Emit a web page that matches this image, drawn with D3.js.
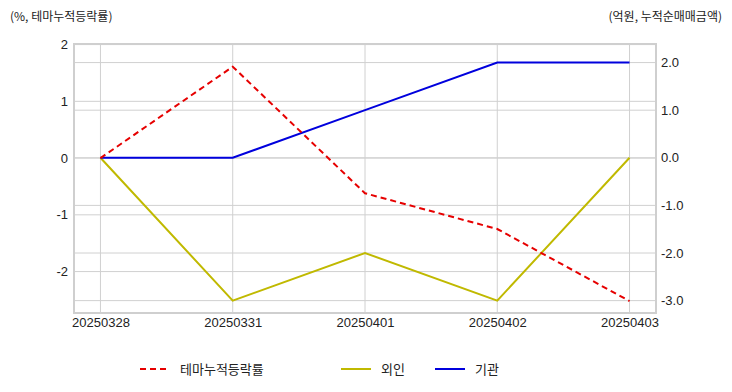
<!DOCTYPE html>
<html>
<head>
<meta charset="utf-8">
<script src="https://cdn.jsdelivr.net/npm/d3@7"></script>
<style>
  body { margin: 0; background: #fff; }
  text { font-family: "Liberation Sans", Arial, sans-serif; fill: #222; }
  .kr { font-family: "Noto Sans CJK KR", sans-serif; }
</style>
</head>
<body>
<div id="chart"></div>
<script>
// data
const dates = ["20250328", "20250331", "20250401", "20250402", "20250403"]
const themeReturn = [0, 1.61, -0.62, -1.25, -2.52]   // left axis, %
const foreign = [0, -3.0, -2.0, -3.0, 0.0]           // right axis, 억원
const institution = [0, 0, 1.0, 2.0, 2.0]            // right axis
const leftTicks = [2, 1, 0, -1, -2]
const rightTicks = [2, 1, 0, -1, -2, -3]

const width = 732
const height = 392
const plot = {left: 74, right: 656, top: 44, bottom: 313}

const svg = d3.select('#chart').append('svg').attr('width', width).attr('height', height)

const x = d3.scalePoint().domain(dates).range([plot.left, plot.right]).padding(0.2)
const yL = d3.scaleLinear().domain([-2.73, 2.01]).range([plot.bottom, plot.top])
const yR = d3.scaleLinear().domain([-3.26, 2.39]).range([plot.bottom, plot.top])

// grid
const grid = svg.append('g').attr('stroke', '#d0d0d0').attr('stroke-width', 1)
grid.selectAll('.gx').data(dates).enter().append('line')
  .attr('x1', d => x(d)).attr('x2', d => x(d)).attr('y1', plot.top).attr('y2', plot.bottom)
grid.selectAll('.gl').data(leftTicks).enter().append('line')
  .attr('x1', plot.left).attr('x2', plot.right).attr('y1', d => yL(d)).attr('y2', d => yL(d))
grid.selectAll('.gr').data(rightTicks).enter().append('line')
  .attr('x1', plot.left).attr('x2', plot.right).attr('y1', d => yR(d)).attr('y2', d => yR(d))

// frame
svg.append('rect')
  .attr('x', plot.left).attr('y', plot.top)
  .attr('width', plot.right - plot.left).attr('height', plot.bottom - plot.top)
  .attr('fill', 'none').attr('stroke', '#cfcfcf').attr('stroke-width', 2)

// axes (plain hyphen for minus, like the original)
const leftAxis = d3.axisLeft(yL).tickValues(leftTicks).tickSize(0).tickPadding(6)
  .tickFormat(d => String(d))
svg.append('g').attr('transform', `translate(${plot.left},0)`).call(leftAxis)
const rightAxis = d3.axisRight(yR).tickValues(rightTicks).tickSize(0).tickPadding(5)
  .tickFormat(d => d.toFixed(1))
svg.append('g').attr('transform', `translate(${plot.right},0)`).call(rightAxis)
const xAxis = d3.axisBottom(x).tickSize(0).tickPadding(5)
svg.append('g').attr('transform', `translate(0,${plot.bottom})`).call(xAxis)
svg.selectAll('.domain').remove()
svg.selectAll('.tick text').attr('font-size', 13).attr('fill', '#222')
  .style('font-family', '"Liberation Sans", Arial, sans-serif')

// axis titles
svg.append('text').attr('class', 'kr').attr('x', 10).attr('y', 21).attr('font-size', 12).text('(%, 테마누적등락률)')
svg.append('text').attr('class', 'kr').attr('x', 722).attr('y', 21).attr('font-size', 12)
  .attr('text-anchor', 'end').text('(억원, 누적순매매금액)')

// lines
const lineL = d3.line().x((d, i) => x(dates[i])).y(d => yL(d))
const lineR = d3.line().x((d, i) => x(dates[i])).y(d => yR(d))

svg.append('path').datum(foreign).attr('d', lineR)
  .attr('fill', 'none').attr('stroke', '#c0b900').attr('stroke-width', 2)
svg.append('path').datum(institution).attr('d', lineR)
  .attr('fill', 'none').attr('stroke', '#0000dd').attr('stroke-width', 2)
svg.append('path').datum(themeReturn).attr('d', lineL)
  .attr('fill', 'none').attr('stroke', '#e60000').attr('stroke-width', 2).attr('stroke-dasharray', '6,4')

// legend
const legend = [
  {name: '테마누적등락률', color: '#e60000', dash: '6,4', x: 140},
  {name: '외인', color: '#c0b900', dash: null, x: 341},
  {name: '기관', color: '#0000dd', dash: null, x: 435}
]
const lg = svg.selectAll('.lg').data(legend).enter().append('g')
  .attr('transform', d => `translate(${d.x},369)`)
lg.append('line').attr('x1', 0).attr('x2', 30).attr('y1', 0).attr('y2', 0)
  .attr('stroke', d => d.color).attr('stroke-width', 2).attr('stroke-dasharray', d => d.dash)
lg.append('text').attr('class', 'kr').attr('x', 40).attr('y', 5).attr('font-size', 13).text(d => d.name)
</script>
</body>
</html>
